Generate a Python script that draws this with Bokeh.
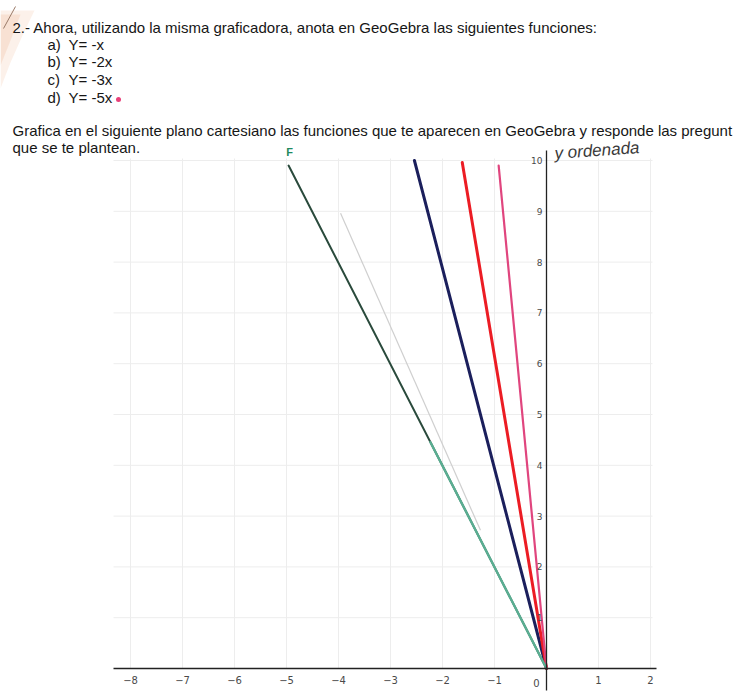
from bokeh.plotting import figure
from bokeh.models import Range1d, LinearAxis, FixedTicker, Label
from bokeh.embed import file_html
from bokeh.resources import INLINE

# ---------------- data ----------------
x_ticks = [-8, -7, -6, -5, -4, -3, -2, -1, 1, 2]
y_ticks = [1, 2, 3, 4, 5, 6, 7, 8, 9, 10]
grid_x = [-8, -7, -6, -5, -4, -3, -2, -1, 0, 1, 2]
grid_y = [1, 2, 3, 4, 5, 6, 7, 8, 9, 10]

# hand-drawn lines: each from the origin to its top end point
line_names = ["verde", "azul", "rojo", "rosa"]
line_top_x = [-4.96, -2.54, -1.62, -0.92]
line_top_y = [9.9, 10.0, 9.96, 9.9]
# faint pencil stroke
pencil_x = [-3.96, -1.27]
pencil_y = [8.96, 2.72]

header = "2.- Ahora, utilizando la misma graficadora, anota en GeoGebra las siguientes funciones:"
item_letters = ["a)", "b)", "c)", "d)"]
item_funcs = ["Y= -x", "Y= -2x", "Y= -3x", "Y= -5x"]
para = ["Grafica en el siguiente plano cartesiano las funciones que te aparecen en GeoGebra y responde las pregunt",
        "que se te plantean."]

# ---------------- geometry (pixel mapping of the page) ----------------
W, H = 737, 693
PX0, PY0 = 546.0, 668.0   # pixel of the origin
SX, SY = 52.0, 50.8       # pixels per unit


def dx(px):
    return (px - PX0) / SX


def dy(py):
    return (PY0 - py) / SY


p = figure(width=W, height=H, output_backend="svg", toolbar_location=None,
           x_range=Range1d(dx(0), dx(W)), y_range=Range1d(dy(H), dy(0)),
           x_axis_type=None, y_axis_type=None, min_border=0,
           outline_line_color=None, background_fill_color="white",
           border_fill_color="white")

# scanned-paper smudge at the top-left corner (soft, layered)
p.patch([dx(0), dx(34), dx(22), dx(10), dx(0)],
        [dy(10), dy(10), dy(35), dy(62), dy(88)],
        fill_color="#f6d6c2", fill_alpha=0.35, line_color=None)
p.patch([dx(0), dx(20), dx(10), dx(0)],
        [dy(14), dy(14), dy(40), dy(65)],
        fill_color="#f2c4a8", fill_alpha=0.35, line_color=None)
p.line([dx(3), dx(15)], [dy(28), dy(6)], line_color="#9a7a68", line_width=1)

# grid
gy0, gy1 = dy(668), dy(158)
gx0, gx1 = dx(113), dx(652)
p.segment(x0=grid_x, y0=[gy0] * len(grid_x), x1=grid_x, y1=[gy1] * len(grid_x),
          line_color="#ededed", line_width=1)
p.segment(x0=[gx0] * len(grid_y), y0=grid_y, x1=[gx1] * len(grid_y), y1=grid_y,
          line_color="#ededed", line_width=1)

# axes through the origin
xaxis = LinearAxis(fixed_location=0, bounds=(dx(113), dx(656)),
                   ticker=FixedTicker(ticks=x_ticks),
                   major_label_overrides={t: ("\u2212" + str(-t) if t < 0 else str(t)) for t in x_ticks})
xaxis.axis_line_color = "#222222"
xaxis.axis_line_width = 1.3
xaxis.major_tick_in = 0
xaxis.major_tick_out = 0
xaxis.minor_tick_in = 0
xaxis.minor_tick_out = 0
xaxis.major_label_standoff = 7
xaxis.major_label_text_font = "DejaVu Sans"
xaxis.major_label_text_font_size = "10px"
xaxis.major_label_text_color = "#4a4a4a"
p.add_layout(xaxis, "below")

yaxis = LinearAxis(fixed_location=0, bounds=(dy(690), dy(150)),
                   ticker=FixedTicker(ticks=y_ticks))
yaxis.axis_line_color = "#222222"
yaxis.axis_line_width = 1.3
yaxis.major_tick_in = 0
yaxis.major_tick_out = 0
yaxis.minor_tick_in = 0
yaxis.minor_tick_out = 0
yaxis.major_label_standoff = 4
yaxis.major_label_text_font = "DejaVu Sans"
yaxis.major_label_text_font_size = "9px"
yaxis.major_label_text_color = "#4a4a4a"
p.add_layout(yaxis, "left")

p.add_layout(Label(x=dx(536), y=dy(682), text="0", text_font="DejaVu Sans",
                   text_font_size="10px", text_color="#4a4a4a",
                   text_align="center", text_baseline="middle"))

# pencil stroke
p.line(pencil_x, pencil_y, line_color="#cfcfcf", line_width=1.2)

# hand-drawn lines
colors = ["#2a4a3c", "#1b1f5c", "#ec1c24", "#e0457e"]
widths = [2.0, 3.0, 3.0, 2.2]
for i in range(len(line_names)):
    p.line([0, line_top_x[i]], [0, line_top_y[i]], line_color=colors[i],
           line_width=widths[i], line_cap="round")
# lower part of the green line was retraced in teal
p.line([0, line_top_x[0] * 0.45], [0, line_top_y[0] * 0.45], line_color="#5aae92",
       line_width=2.4, line_cap="round")

# handwritten marks
p.add_layout(Label(x=dx(289), y=dy(151), text="F", text_font="Liberation Sans",
                   text_font_size="11px", text_color="#1f8a5e", text_font_style="bold",
                   text_align="center", text_baseline="middle"))
p.add_layout(Label(x=dx(554), y=dy(153), text="y ordenada", text_font="Liberation Sans",
                   text_font_style="italic", text_font_size="17px", text_color="#3a3a3a",
                   text_align="left", text_baseline="middle", angle=0.07))
p.scatter([dx(118)], [dy(99)], size=5, fill_color="#e8407a", line_color=None)

# worksheet text
TF = "Liberation Sans"
FS = "15px"
TC = "#161616"
p.add_layout(Label(x=dx(12), y=dy(27), text=header, text_font=TF,
                   text_font_size=FS, text_color=TC,
                   text_align="left", text_baseline="middle"))
item_y = [44, 61, 79, 97]
for let, fn, yy in zip(item_letters, item_funcs, item_y):
    p.add_layout(Label(x=dx(47), y=dy(yy), text=let, text_font=TF,
                       text_font_size=FS, text_color=TC,
                       text_align="left", text_baseline="middle"))
    p.add_layout(Label(x=dx(68), y=dy(yy), text=fn, text_font=TF,
                       text_font_size=FS, text_color=TC,
                       text_align="left", text_baseline="middle"))
p.add_layout(Label(x=dx(12), y=dy(130), text=para[0], text_font=TF,
                   text_font_size=FS, text_color=TC,
                   text_align="left", text_baseline="middle"))
p.add_layout(Label(x=dx(12), y=dy(147), text=para[1], text_font=TF,
                   text_font_size=FS, text_color=TC,
                   text_align="left", text_baseline="middle"))

open("out.html", "w").write(file_html(p, INLINE))
